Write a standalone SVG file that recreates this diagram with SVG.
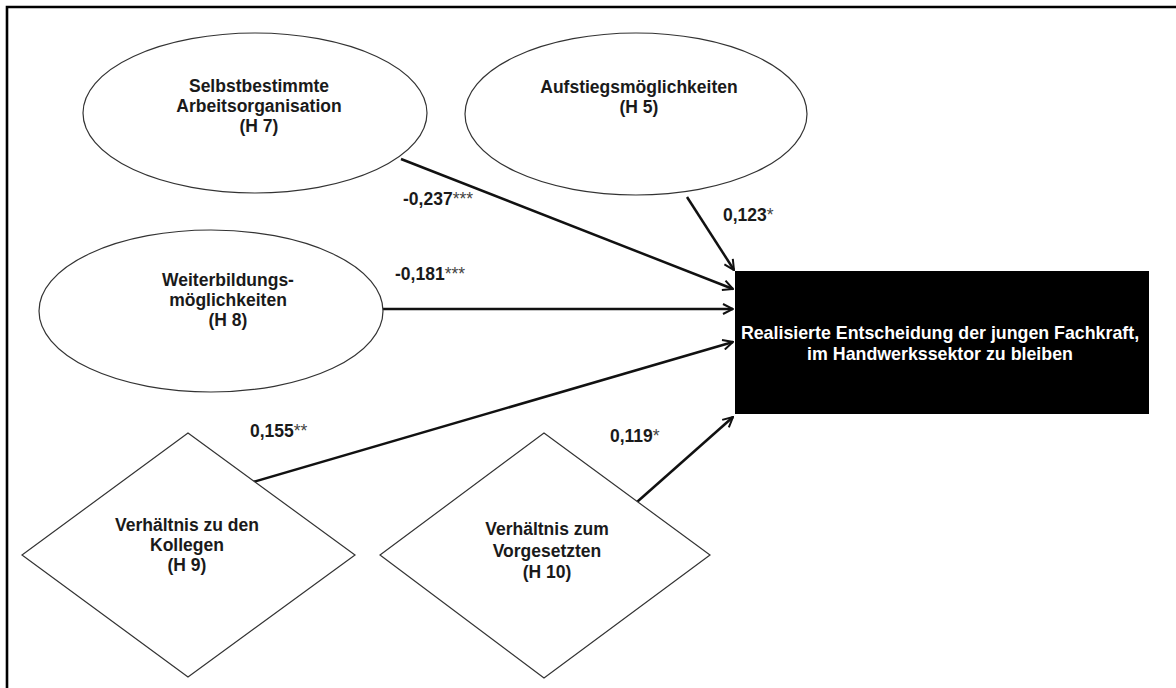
<svg xmlns="http://www.w3.org/2000/svg" width="1176" height="688" viewBox="0 0 1176 688">
<style>
.node{fill:#fff;stroke:#333;stroke-width:1.2}
.t{font-family:"Liberation Sans",Arial,sans-serif;font-weight:bold;font-size:17.5px;fill:#1a1a1a;text-anchor:middle}
.w{fill:#fff;font-size:17.8px}
.lbl{font-family:"Liberation Sans",Arial,sans-serif;font-weight:bold;font-size:17.5px;fill:#1a1a1a}
.st{font-weight:normal;fill:#444}
.conn{stroke:#111;stroke-width:2.5;fill:none;marker-end:url(#arr)}
</style>
<defs>
<marker id="arr" viewBox="0 0 12 12" refX="11" refY="6" markerWidth="12" markerHeight="12" orient="auto" markerUnits="userSpaceOnUse">
<path d="M1,1 L11,6 L1,11" fill="none" stroke="#111" stroke-width="2"/>
</marker>
</defs>
<rect width="1176" height="688" fill="#fff"/>
<path d="M7,688 V7 H1176" fill="none" stroke="#000" stroke-width="2.6"/>

<g id="connectors">
<line class="conn" x1="401" y1="159" x2="733" y2="289"/>
<line class="conn" x1="687" y1="197" x2="734" y2="270"/>
<line class="conn" x1="383" y1="309" x2="733" y2="309"/>
<line class="conn" x1="253" y1="482" x2="733" y2="342"/>
<line class="conn" x1="637" y1="502" x2="733" y2="417"/>
</g>

<g id="labels">
<text class="lbl" x="403" y="205">-0,237<tspan class="st">***</tspan></text>
<text class="lbl" x="395" y="280">-0,181<tspan class="st">***</tspan></text>
<text class="lbl" x="723" y="221">0,123<tspan class="st">*</tspan></text>
<text class="lbl" x="250" y="437">0,155<tspan class="st">**</tspan></text>
<text class="lbl" x="610" y="442">0,119<tspan class="st">*</tspan></text>
</g>

<g id="n-h7">
<ellipse class="node" cx="255" cy="113" rx="172" ry="80"/>
<text class="t" x="259" y="92">Selbstbestimmte</text>
<text class="t" x="259" y="112">Arbeitsorganisation</text>
<text class="t" x="259" y="132">(H 7)</text>
</g>

<g id="n-h5">
<ellipse class="node" cx="636" cy="114" rx="171" ry="81"/>
<text class="t" x="639" y="93">Aufstiegsmöglichkeiten</text>
<text class="t" x="639" y="113">(H 5)</text>
</g>

<g id="n-h8">
<ellipse class="node" cx="211" cy="311" rx="172" ry="81"/>
<text class="t" x="228" y="286">Weiterbildungs-</text>
<text class="t" x="228" y="306">möglichkeiten</text>
<text class="t" x="228" y="326">(H 8)</text>
</g>

<g id="n-h9">
<polygon class="node" points="188,433 355,555 188,677 22,555"/>
<text class="t" x="187" y="531">Verhältnis zu den</text>
<text class="t" x="187" y="551">Kollegen</text>
<text class="t" x="187" y="571">(H 9)</text>
</g>

<g id="n-h10">
<polygon class="node" points="544,433 710,555 544,678 380,555"/>
<text class="t" x="547" y="535">Verhältnis zum</text>
<text class="t" x="547" y="557">Vorgesetzten</text>
<text class="t" x="547" y="578">(H 10)</text>
</g>

<g id="n-target">
<rect x="735" y="271" width="414" height="143" fill="#000"/>
<text class="t w" x="940" y="339">Realisierte Entscheidung der jungen Fachkraft,</text>
<text class="t w" x="940" y="360">im  Handwerkssektor zu bleiben</text>
</g>
</svg>
